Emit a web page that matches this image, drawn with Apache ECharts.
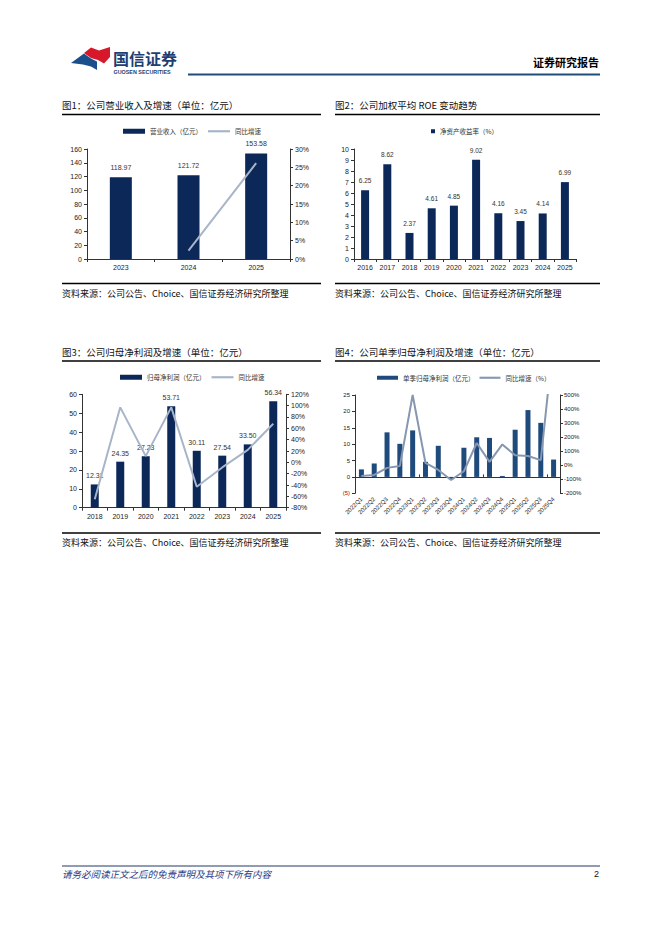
<!DOCTYPE html>
<html>
<head>
<meta charset="utf-8">
<script src="https://cdn.jsdelivr.net/npm/echarts@6/dist/echarts.min.js"></script>
<style>
html,body{margin:0;padding:0;background:#fff;}
#main{width:662px;height:936px;}
</style>
</head>
<body>
<div id="main"></div>
<script>
// ---------- data ----------
const c1Years = ['2023', '2024', '2025'];
const c1Revenue = [118.97, 121.72, 153.58];
const c1Growth = [null, 2.31, 26.17];

const c2Years = ['2016', '2017', '2018', '2019', '2020', '2021', '2022', '2023', '2024', '2025'];
const c2Roe = [6.25, 8.62, 2.37, 4.61, 4.85, 9.02, 4.16, 3.45, 4.14, 6.99];

const c3Years = ['2018', '2019', '2020', '2021', '2022', '2023', '2024', '2025'];
const c3Profit = [12.31, 24.35, 27.23, 53.71, 30.11, 27.54, 33.50, 56.34];
const c3Growth = [-65, 97, 11, 97, -43, -9, 22, 68];

const c4Quarters = ['2022Q1', '2022Q2', '2022Q3', '2022Q4', '2023Q1', '2023Q2', '2023Q3', '2023Q4',
                    '2024Q1', '2024Q2', '2024Q3', '2024Q4', '2025Q1', '2025Q2', '2025Q3', '2025Q4'];
const c4Profit = [2.3, 4.1, 13.6, 10.1, 14.2, 4.6, 9.5, -0.7, 8.9, 12.1, 11.9, 0.3, 14.4, 20.4, 16.5, 5.3];
const c4Growth = [-76, -69, -19, -5, 500, 16, -34, -105, -43, 158, 24, 148, 71, 66, 36, 900];

// ---------- styles ----------
const CJK = '"Noto Sans CJK SC", "Noto Sans", sans-serif';
const NUM = '"Liberation Sans", Arial, sans-serif';
const NAVY = '#0b2859';
const NAVY4 = '#1f4a7c';
const LINE1 = '#a8b5c8';
const LINE4 = '#8797b0';
const TXT = '#222';
const LINE_ICON = 'path://M0,0H20V2H0Z';

function yAxisBase(grid, opts) {
  return Object.assign({
    type: 'value', gridIndex: grid,
    splitLine: { show: false },
    axisLine: { show: true, lineStyle: { color: '#333', width: 1 } },
    axisTick: { show: true, length: 3, lineStyle: { color: '#333' } },
    axisLabel: { fontSize: 7, fontFamily: NUM, color: TXT, margin: 5 }
  }, opts);
}
function xAxisBase(grid, data, opts) {
  return Object.assign({
    type: 'category', gridIndex: grid, data: data,
    axisLine: { show: true, lineStyle: { color: '#333', width: 1 } },
    axisTick: { show: true, length: 3, lineStyle: { color: '#333' } },
    axisLabel: { fontSize: 7, fontFamily: NUM, color: TXT, margin: 5, interval: 0 }
  }, opts);
}
const labelTop = { show: true, position: 'top', distance: 5, fontSize: 7, fontFamily: NUM, color: '#333',
  formatter: function (p) { return Number(p.value).toFixed(2); } };
const legendText = { fontSize: 6.5, fontFamily: CJK, color: '#333' };

function txt(text, x, y, size, opts) {
  return {
    type: 'text', silent: true,
    style: Object.assign({
      text: text, x: x, y: y, fontSize: size, fontFamily: CJK, fill: '#111',
      align: 'left', verticalAlign: 'middle'
    }, opts || {})
  };
}
function hline(x1, x2, y, color, w) {
  return { type: 'line', silent: true, shape: { x1: x1, y1: y, x2: x2, y2: y }, style: { stroke: color, lineWidth: w } };
}

const SRC = '资料来源：公司公告、Choice、国信证券经济研究所整理';

const graphics = [
  // logo
  { type: 'polygon', silent: true, shape: { points: [[84, 53], [91, 47.5], [99, 50.5], [110, 47], [110, 57], [104, 63.5], [98, 60], [91, 58]] }, style: { fill: '#d7182a' } },
  { type: 'polygon', silent: true, shape: { points: [[71, 63], [84, 53.5], [91, 58.5], [97, 61.5], [97, 70], [91, 66.5], [83, 64.5]] }, style: { fill: '#1b4f8c' } },
  txt('国信证券', 113, 57.5, 16, { fontWeight: 'bold', fill: '#1d3f75' }),
  txt('GUOSEN SECURITIES', 113.5, 71.5, 5.4, { fontWeight: 'bold', fill: '#1d3f75', fontFamily: NUM }),
  txt('证券研究报告', 599, 62, 11, { fontWeight: 'bold', align: 'right', fill: '#000' }),
  hline(188, 600, 74.5, '#1f4e79', 2),

  // titles
  txt('图1：公司营业收入及增速（单位：亿元）', 62, 105, 9.5),
  hline(62, 321, 114.5, '#000', 1.3),
  txt('图2：公司加权平均 ROE 变动趋势', 335, 105, 9.5),
  hline(335, 600, 114.5, '#000', 1.3),
  txt('图3：公司归母净利润及增速（单位：亿元）', 62, 352, 9.5),
  hline(62, 321, 361, '#000', 1.3),
  txt('图4：公司单季归母净利润及增速（单位：亿元）', 335, 352, 9.5),
  hline(335, 600, 361, '#000', 1.3),

  // sources
  hline(62, 321, 283.5, '#000', 1.3),
  txt(SRC, 62, 293.5, 9),
  hline(335, 600, 283.5, '#000', 1.3),
  txt(SRC, 335, 293.5, 9),
  hline(62, 321, 533, '#000', 1.3),
  txt(SRC, 62, 542, 9),
  hline(335, 600, 533, '#000', 1.3),
  txt(SRC, 335, 542, 9),

  // footer
  hline(62, 600, 866, '#1f3864', 1),
  txt('请务必阅读正文之后的免责声明及其项下所有内容', 62, 873.5, 9.5, { fontStyle: 'italic', fill: '#1f3c88' }),
  txt('2', 599, 874, 9, { align: 'right', fill: '#111', fontFamily: NUM })
];

const option = {
  animation: false,
  backgroundColor: '#fff',
  graphic: graphics,
  grid: [
    { left: 87, top: 149, width: 203, height: 110 },
    { left: 354, top: 149, width: 222, height: 110 },
    { left: 82, top: 394.3, width: 204, height: 113.4 },
    { left: 355, top: 395, width: 205, height: 98.3 }
  ],
  legend: [
    { left: 123, top: 128, padding: 0, itemWidth: 22, itemHeight: 5, itemGap: 6, textStyle: legendText,
      data: [{ name: '营业收入（亿元）', icon: 'rect' }, { name: '同比增速', icon: LINE_ICON }] },
    { left: 431, top: 128, padding: 0, itemWidth: 4, itemHeight: 4, itemGap: 6, textStyle: legendText,
      data: [{ name: '净资产收益率（%）', icon: 'rect' }] },
    { left: 120, top: 374, padding: 0, itemWidth: 22, itemHeight: 5, itemGap: 6, textStyle: legendText,
      data: [{ name: '归母净利润（亿元）', icon: 'rect' }, { name: '同比增速 ', icon: LINE_ICON }] },
    { left: 377, top: 374.5, padding: 0, itemWidth: 21, itemHeight: 4, itemGap: 5, textStyle: legendText,
      data: [{ name: '单季归母净利润（亿元）', icon: 'rect' }, { name: '同比增速（%）', icon: LINE_ICON }] }
  ],
  xAxis: [
    xAxisBase(0, c1Years),
    xAxisBase(1, c2Years),
    xAxisBase(2, c3Years),
    xAxisBase(3, c4Quarters, {
      position: 'bottom',
      axisLine: { show: false }, axisTick: { show: false },
      axisLabel: { fontSize: 6, fontFamily: NUM, color: TXT, margin: 5, interval: 0, rotate: 45 }
    }),
    xAxisBase(3, c4Quarters, {
      axisLine: { show: true, onZero: true, onZeroAxisIndex: 5, lineStyle: { color: '#333', width: 1 } },
      axisTick: { show: true, length: 2.5, lineStyle: { color: '#333' } },
      axisLabel: { show: false }
    })
  ],
  yAxis: [
    yAxisBase(0, { min: 0, max: 160, interval: 20 }),
    yAxisBase(0, { min: 0, max: 30, interval: 5, position: 'right',
      axisLabel: { fontSize: 7, fontFamily: NUM, color: TXT, margin: 5, formatter: '{value}%' } }),
    yAxisBase(1, { min: 0, max: 10, interval: 1 }),
    yAxisBase(2, { min: 0, max: 60, interval: 10 }),
    yAxisBase(2, { min: -80, max: 120, interval: 20, position: 'right',
      axisLabel: { fontSize: 7, fontFamily: NUM, color: TXT, margin: 5, formatter: '{value}%' } }),
    yAxisBase(3, { min: -5, max: 25, interval: 5,
      axisLabel: { fontSize: 6, fontFamily: NUM, margin: 5,
        formatter: function (v) { return v < 0 ? '(' + (-v) + ')' : String(v); },
        color: function (v) { return Number(v) < 0 ? '#c00000' : TXT; } } }),
    yAxisBase(3, { min: -200, max: 500, interval: 100, position: 'right',
      axisLabel: { fontSize: 6, fontFamily: NUM, color: TXT, margin: 4, formatter: '{value}%' } })
  ],
  series: [
    { name: '营业收入（亿元）', type: 'bar', xAxisIndex: 0, yAxisIndex: 0, data: c1Revenue,
      barWidth: 22, itemStyle: { color: NAVY }, label: Object.assign({}, labelTop, { distance: 6 }) },
    { name: '同比增速', type: 'line', xAxisIndex: 0, yAxisIndex: 1, data: c1Growth,
      symbol: 'none', lineStyle: { color: LINE1, width: 2 }, itemStyle: { color: LINE1 }, z: 5 },

    { name: '净资产收益率（%）', type: 'bar', xAxisIndex: 1, yAxisIndex: 2, data: c2Roe,
      barWidth: 8, itemStyle: { color: NAVY }, label: Object.assign({}, labelTop, { fontSize: 6.5, distance: 6 }) },

    { name: '归母净利润（亿元）', type: 'bar', xAxisIndex: 2, yAxisIndex: 3, data: c3Profit,
      barWidth: 8, itemStyle: { color: NAVY }, label: Object.assign({}, labelTop, { distance: 5 }) },
    { name: '同比增速 ', type: 'line', xAxisIndex: 2, yAxisIndex: 4, data: c3Growth,
      symbol: 'none', lineStyle: { color: LINE1, width: 2 }, itemStyle: { color: LINE1 }, z: 5 },

    { name: '单季归母净利润（亿元）', type: 'bar', xAxisIndex: 3, yAxisIndex: 5, data: c4Profit,
      barWidth: 5, itemStyle: { color: NAVY4 } },
    { name: '同比增速（%）', type: 'line', xAxisIndex: 3, yAxisIndex: 6, data: c4Growth,
      symbol: 'none', clip: true, lineStyle: { color: LINE4, width: 2 }, itemStyle: { color: LINE4 }, z: 5 }
  ]
};

const chart = echarts.init(document.getElementById('main'), null, { renderer: 'svg', width: 662, height: 936 });
chart.setOption(option);
</script>
</body>
</html>
